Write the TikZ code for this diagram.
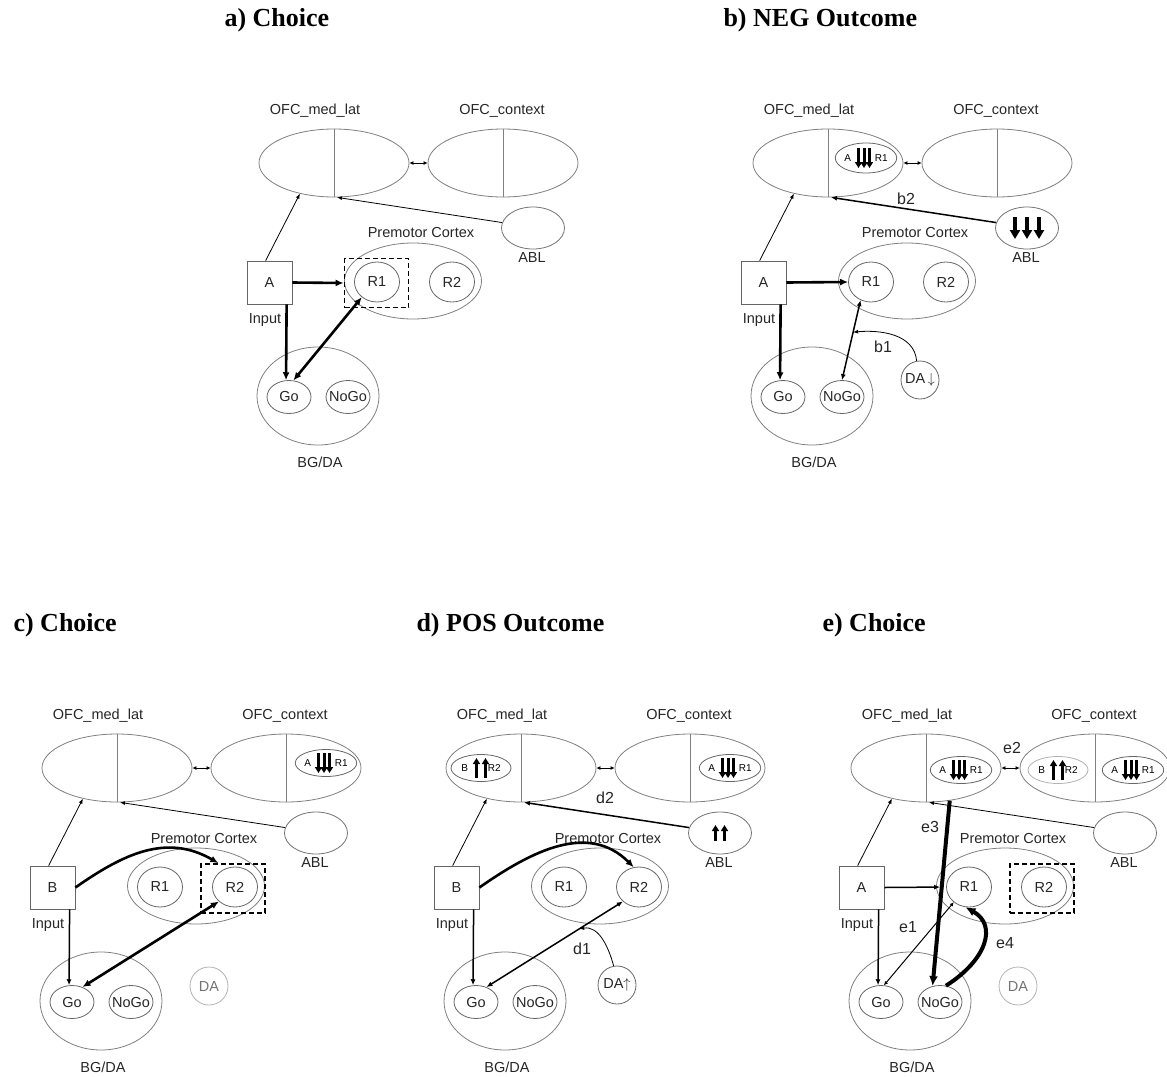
\documentclass[tikz,border=0pt]{standalone}
\usepackage{fontspec}
\setmainfont{Liberation Serif}
\setsansfont{Liberation Sans}
\usepackage{tikz}
\usetikzlibrary{arrows.meta,shapes.geometric,calc}

\tikzset{
  lbl/.style={font=\sffamily\fontsize{14.5}{16}\selectfont, text=black!85},
  tagl/.style={font=\sffamily\fontsize{16}{18}\selectfont, text=black!85},
  ttl/.style={font=\bfseries\fontsize{26}{30}\selectfont, anchor=west},
  ofcell/.style={ellipse, draw=black!50, line width=0.8pt, inner sep=0pt,
                 minimum width=150pt, minimum height=68pt},
  divline/.style={draw=black!50, line width=0.8pt},
  ablell/.style={ellipse, draw=black!55, line width=0.8pt, inner sep=0pt,
                 minimum width=63pt, minimum height=42pt},
  pmell/.style={ellipse, draw=black!50, line width=0.8pt, inner sep=0pt,
                minimum width=137pt, minimum height=76pt},
  bgell/.style={ellipse, draw=black!50, line width=0.8pt, inner sep=0pt,
                minimum width=122pt, minimum height=98pt},
  unitell/.style={ellipse, draw=black!60, line width=0.8pt, inner sep=0pt, lbl,
                  minimum width=45pt, minimum height=40pt},
  goell/.style={ellipse, draw=black!60, line width=0.8pt, inner sep=0pt, lbl,
                minimum width=44pt, minimum height=33pt},
  daell/.style={ellipse, draw=black!60, line width=0.8pt, inner sep=0pt, lbl,
                minimum width=38pt, minimum height=38pt},
  memell/.style={ellipse, draw=black!60, line width=0.8pt, inner sep=0pt,
                 font=\sffamily\fontsize{10}{12}\selectfont,
                 minimum width=60pt, minimum height=27pt},
  inbox/.style={draw=black!60, line width=0.8pt, lbl,
                minimum width=45pt, minimum height=43pt},
  selbox/.style={draw=black, dashed, line width=1.8pt,
                 dash pattern=on 5pt off 3pt, minimum width=64pt, minimum height=49pt},
  dim/.style={draw=black!30, text=black!55},
  dimline/.style={draw=black!30},
  arrthin/.style={line width=0.8pt, -{Latex[length=5pt,width=4pt]}},
  arrmed/.style={line width=1.5pt, -{Latex[length=6pt,width=5pt]}},
  arrthick/.style={line width=2.6pt, -{Latex[length=8pt,width=7pt]}},
  arrhuge/.style={line width=4pt, -{Latex[length=10pt,width=9pt]}},
  dblthin/.style={line width=1pt, {Latex[length=4pt,width=4pt]}-{Latex[length=4pt,width=4pt]}},
  dblmed/.style={line width=1.5pt, {Latex[length=6pt,width=5pt]}-{Latex[length=6pt,width=5pt]}},
  dblthick/.style={line width=2.6pt, {Latex[length=8pt,width=7pt]}-{Latex[length=8pt,width=7pt]}},
  pics/dnsmall/.style={code={
    \foreach \dx in {-5.5,0,5.5}
      \draw[line width=3pt, -{Triangle[length=6pt,width=7pt]}] (\dx,-10) -- (\dx,10);
  }},
  pics/dnbig/.style={code={
    \foreach \dx in {-12,0,12}
      \draw[line width=3.6pt, -{Triangle[length=9pt,width=10pt]}] (\dx,-11) -- (\dx,11);
  }},
  pics/upsmall/.style={code={
    \foreach \dx in {-4.5,4.5}
      \draw[line width=3pt, -{Triangle[length=6pt,width=7pt]}] (\dx,10) -- (\dx,-10);
  }},
  pics/upbig/.style={code={
    \foreach \dx in {-4.5,4.5}
      \draw[line width=3pt, -{Triangle[length=6pt,width=7pt]}] (\dx,8) -- (\dx,-8);
  }},
}

% common skeleton of one panel: #1 = name prefix, #2 = input letter
\newcommand{\panelbase}[2]{%
  %% OFC layers
  \node[lbl] (#1omllbl) at (315,111) {OFC\_med\_lat};
  \node[lbl] (#1octxlbl) at (502,111) {OFC\_context};
  \node[ofcell] (#1oml) at (334,163) {};
  \node[ofcell] (#1octx) at (503,163) {};
  \draw[divline] (#1oml.north) -- (#1oml.south);
  \draw[divline] (#1octx.north) -- (#1octx.south);
  \draw[dblthin] (#1oml.east) -- (#1octx.west);
  %% ABL
  \node[ablell] (#1abl) at (533,228) {};
  \node[lbl] (#1abllbl) at (532,258) {ABL};
  %% premotor cortex
  \node[lbl] (#1pmlbl) at (421,233) {Premotor Cortex};
  \node[pmell] (#1pm) at (413,281) {};
  \node[unitell] (#1r1) at (377,282) {R1};
  \node[unitell] (#1r2) at (452,282) {R2};
  %% input
  \node[inbox] (#1in) at (269.5,282.5) {#2};
  \node[lbl] (#1inlbl) at (265,320) {Input};
  %% basal ganglia
  \node[bgell] (#1bg) at (318,396) {};
  \node[goell] (#1go) at (289,397) {\makebox[0pt]{Go}};
  \node[goell] (#1nogo) at (348,397) {\makebox[0pt]{NoGo}};
  \node[lbl] (#1bglbl) at (320,462) {BG/DA};
  \draw[arrthin] (#1in.100) -- (#1oml.222);
}

\begin{document}
\begin{tikzpicture}[x=1pt, y=-1pt]
\useasboundingbox (0,0) rectangle (1167,1076);

%% ── Titles ───────────────────────────────────────────────────────────────────
\node[ttl] (ta) at (221,20) {a) Choice};
\node[ttl] (tb) at (720,20) {b) NEG Outcome};
\node[ttl] (tc) at (10,625) {c) Choice};
\node[ttl] (td) at (413,625) {d) POS Outcome};
\node[ttl] (te) at (819,625) {e) Choice};

%% ── a) Choice ────────────────────────────────────────────────────────────────
\begin{scope}
\panelbase{a}{A}
\draw[arrthin] (aabl.170) -- (aoml.275);
\node[selbox] (asel) at (376.5,283) {};
\draw[arrthick] (ain.east) -- (asel.west);
\draw[arrthick] (ain.308) -- (ago.100);
\draw[dblthick] (ago.75) -- (ar1.225);
\end{scope}

%% ── b) NEG outcome ───────────────────────────────────────────────────────────
\begin{scope}[shift={(494,0)}]
\panelbase{b}{A}
\node[memell, minimum height=30pt] (bmem) at (372,158) {A\hspace{24pt}R1};
\pic at ($(bmem.center)+(-2,0)$) {dnsmall};
\pic at (babl.center) {dnbig};
\draw[arrmed] (babl.170) -- (boml.275);
\node[tagl] (bb2) at (412,199) {b2};
\draw[arrthick] (bin.east) -- (br1.west);
\draw[arrthick] (bin.308) -- (bgo.100);
\draw[dblmed] (br1.240) -- coordinate[pos=0.4] (bmod) (bnogo.north);
\node[daell] (bda) at (426,380) {\makebox[0pt]{DA\,$\downarrow$}};
\draw[arrthin] (bda.100) to[out=95,in=5] (bmod);
\node[tagl] (bb1) at (389,347) {b1};
\end{scope}

%% ── c) Choice ────────────────────────────────────────────────────────────────
\begin{scope}[shift={(-217,605)}]
\panelbase{c}{B}
\node[memell] (cmem) at (543,158) {A\hspace{24pt}R1};
\pic at ($(cmem.center)+(-2,0)$) {dnsmall};
\draw[arrthin] (cabl.170) -- (coml.275);
\node[selbox] (csel) at (450,283.5) {};
\draw[arrthick] (cin.east) to[out=35,in=150,looseness=1.05] (csel.120);
\draw[arrmed] (cin.308) -- (cgo.100);
\draw[dblthick] (cgo.55) -- (cr2.222);
\node[daell, dim] (cda) at (426,381) {\makebox[0pt]{DA}};
\end{scope}

%% ── d) POS outcome ───────────────────────────────────────────────────────────
\begin{scope}[shift={(187,605)}]
\panelbase{d}{B}
\node[memell] (dmem1) at (294,163) {B\hspace{20pt}R2};
\pic at (dmem1.center) {upsmall};
\node[memell] (dmem2) at (543,163) {A\hspace{24pt}R1};
\pic at ($(dmem2.center)+(-2,0)$) {dnsmall};
\pic at (dabl.center) {upbig};
\draw[arrmed] (dabl.170) -- (doml.275);
\node[tagl] (dd2) at (418,193) {d2};
\draw[arrthick] (din.east) to[out=35,in=135,looseness=1.05] (dr2.105);
\draw[arrmed] (din.308) -- (dgo.100);
\draw[dblmed] (dgo.55) -- coordinate[pos=0.68] (dmod) (dr2.222);
\node[daell] (dda) at (430,380) {\makebox[0pt]{DA$\uparrow$}};
\draw[arrthin] (dda.100) to[out=105,in=10] (dmod);
\node[tagl] (dd1) at (395,344) {d1};
\end{scope}

%% ── e) Choice ────────────────────────────────────────────────────────────────
\begin{scope}[shift={(592,605)}]
\panelbase{e}{A}
\node[memell] (emem1) at (369,165) {A\hspace{24pt}R1};
\pic at ($(emem1.center)+(-2,0)$) {dnsmall};
\node[memell, dimline] (emem2) at (466,165) {B\hspace{20pt}R2};
\pic at (emem2.center) {upsmall};
\node[memell] (emem3) at (541,165) {A\hspace{24pt}R1};
\pic at ($(emem3.center)+(-2,0)$) {dnsmall};
\node[tagl] (ee2) at (420,143) {e2};
\draw[arrthin] (eabl.170) -- (eoml.275);
\node[selbox] (esel) at (450,283.5) {};
\draw[arrmed, shorten >=6pt] (ein.east) -- (er1.west);
\draw[arrmed] (ein.308) -- (ego.100);
\draw[arrhuge] (eoml.306) -- (enogo.115);
\node[tagl] (ee3) at (338,222) {e3};
\draw[dblthin] (ego.80) -- (er1.225);
\node[tagl] (ee1) at (316,322) {e1};
\draw[arrhuge] (enogo.70) .. controls +(41,-26) and +(32,18) .. (er1.260);
\node[tagl] (ee4) at (413,338) {e4};
\node[daell, dim] (eda) at (426,381) {\makebox[0pt]{DA}};
\end{scope}

\end{tikzpicture}
\end{document}
